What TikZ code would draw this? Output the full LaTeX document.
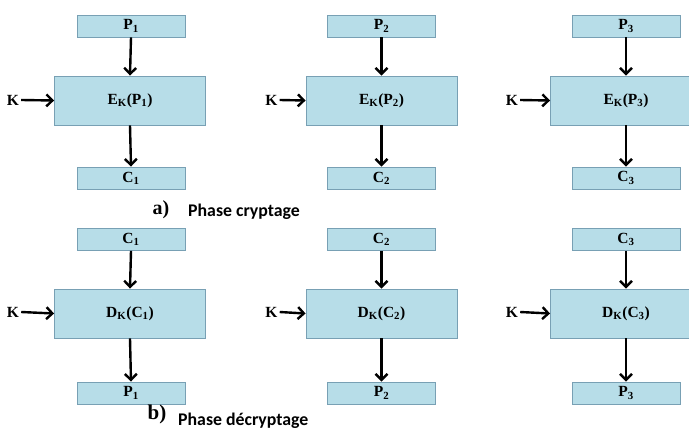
\documentclass[tikz,border=0pt]{standalone}
\usepackage{fontspec}
\setmainfont{Liberation Serif}
\newfontfamily\labelfont{Carlito}
\usetikzlibrary{arrows.meta}
\definecolor{boxfill}{RGB}{183,221,232}
\definecolor{boxline}{RGB}{120,160,180}
\tikzset{
  blockbase/.style={draw=boxline, line width=0.9pt, fill=boxfill, inner sep=0pt,
    font=\fontsize{15.5}{17}\selectfont\bfseries},
  smallbox/.style={blockbase, minimum width=108pt, minimum height=22pt},
  bigbox/.style={blockbase, minimum width=151pt, minimum height=49pt},
  keylabel/.style={font=\fontsize{15.5}{17}\selectfont\bfseries, inner sep=0pt},
  flow/.style={line width=2.4pt, -{Straight Barb[length=6pt,width=12pt,line width=2.4pt]}},
  partletter/.style={font=\fontsize{20}{22}\selectfont\bfseries, inner sep=0pt},
  parttitle/.style={font=\labelfont\fontsize{17.8}{19}\selectfont\bfseries, inner sep=0pt, anchor=base west}
}
\begin{document}
\begin{tikzpicture}[x=1pt,y=-1pt]
\useasboundingbox (0,0) rectangle (689,436);
\fill[white] (0,0) rectangle (689,436);
\clip (0,0) rectangle (689,436);

% ---- a) encryption row ----
\foreach \i/\cx/\bx/\kx in {1/131/130/13, 2/381.5/381.5/271.5, 3/626/626/512}{
  \node[smallbox] (p\i) at (\cx,26) {P\textsubscript{\i}};
  \node[bigbox]   (e\i) at (\bx,100.5) {E\textsubscript{K}(P\textsubscript{\i})};
  \node[smallbox] (c\i) at (\cx,178) {C\textsubscript{\i}};
  \node[keylabel] (ke\i) at (\kx,100) {K};
  \draw[flow] (p\i.south) -- (e\i.north);
  \draw[flow] (e\i.south) -- (c\i.north);
  \draw[flow] ([xshift=2pt]ke\i.east) -- (e\i.west);
}
\node[partletter] (la) at (161,210) {a)};
\node[parttitle] (ta) at (188,216) {Phase cryptage};

% ---- b) decryption row ----
\foreach \i/\cx/\bx/\kx in {1/131/130/13, 2/381.5/381.5/271.5, 3/626/626/512}{
  \node[smallbox] (cc\i) at (\cx,239.5) {C\textsubscript{\i}};
  \node[bigbox]   (d\i) at (\bx,313.5) {D\textsubscript{K}(C\textsubscript{\i})};
  \node[smallbox] (pp\i) at (\cx,393) {P\textsubscript{\i}};
  \node[keylabel] (kd\i) at (\kx,312) {K};
  \draw[flow] (cc\i.south) -- (d\i.north);
  \draw[flow] (d\i.south) -- (pp\i.north);
  \draw[flow] ([xshift=2pt]kd\i.east) -- (d\i.west);
}
\node[partletter, font=\fontsize{21}{23}\selectfont\bfseries] (lb) at (157,414) {b)};
\node[parttitle] (tb) at (178,425) {Phase décryptage};
\end{tikzpicture}
\end{document}
